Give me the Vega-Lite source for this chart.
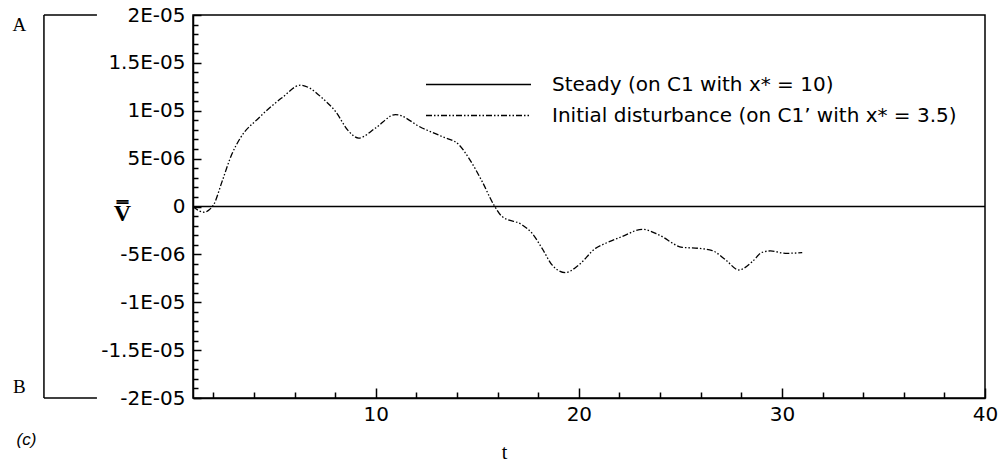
{
  "$schema": "https://vega.github.io/schema/vega-lite/v6.json",
  "width": 792,
  "height": 383,
  "autosize": {"type": "none"},
  "padding": {"left": 193, "top": 15, "right": 16, "bottom": 70},
  "background": "white",
  "config": {
    "view": {"stroke": "black", "strokeWidth": 1.5},
    "axis": {
      "domainColor": "black", "domainWidth": 1.5,
      "tickColor": "black", "tickWidth": 1.5,
      "labelColor": "black", "labelFont": "DejaVu Sans", "labelFontSize": 20,
      "labelOverlap": false, "labelBound": false, "labelFlush": false,
      "grid": false, "titleColor": "black"
    }
  },
  "datasets": {
    "series": [
      {"s": "Steady (on C1 with x* = 10)", "t": 1, "v": 0},
      {"s": "Steady (on C1 with x* = 10)", "t": 40, "v": 0},
      {"s": "Initial disturbance (on C1’ with x* = 3.5)", "t": 1.0, "v": 0},
      {"s": "Initial disturbance (on C1’ with x* = 3.5)", "t": 1.3, "v": -0.45e-6},
      {"s": "Initial disturbance (on C1’ with x* = 3.5)", "t": 1.55, "v": -0.6e-6},
      {"s": "Initial disturbance (on C1’ with x* = 3.5)", "t": 1.8, "v": -0.35e-6},
      {"s": "Initial disturbance (on C1’ with x* = 3.5)", "t": 2.02, "v": 0.2e-6},
      {"s": "Initial disturbance (on C1’ with x* = 3.5)", "t": 2.43, "v": 2.6e-6},
      {"s": "Initial disturbance (on C1’ with x* = 3.5)", "t": 2.9, "v": 5.4e-6},
      {"s": "Initial disturbance (on C1’ with x* = 3.5)", "t": 3.33, "v": 7.15e-6},
      {"s": "Initial disturbance (on C1’ with x* = 3.5)", "t": 4.24, "v": 9.25e-6},
      {"s": "Initial disturbance (on C1’ with x* = 3.5)", "t": 5.38, "v": 11.35e-6},
      {"s": "Initial disturbance (on C1’ with x* = 3.5)", "t": 6.29, "v": 12.67e-6},
      {"s": "Initial disturbance (on C1’ with x* = 3.5)", "t": 6.8, "v": 12.3e-6},
      {"s": "Initial disturbance (on C1’ with x* = 3.5)", "t": 7.35, "v": 11.35e-6},
      {"s": "Initial disturbance (on C1’ with x* = 3.5)", "t": 8.01, "v": 9.95e-6},
      {"s": "Initial disturbance (on C1’ with x* = 3.5)", "t": 8.67, "v": 7.85e-6},
      {"s": "Initial disturbance (on C1’ with x* = 3.5)", "t": 9.16, "v": 7.15e-6},
      {"s": "Initial disturbance (on C1’ with x* = 3.5)", "t": 9.99, "v": 8.2e-6},
      {"s": "Initial disturbance (on C1’ with x* = 3.5)", "t": 10.97, "v": 9.6e-6},
      {"s": "Initial disturbance (on C1’ with x* = 3.5)", "t": 12.28, "v": 8.2e-6},
      {"s": "Initial disturbance (on C1’ with x* = 3.5)", "t": 13.27, "v": 7.3e-6},
      {"s": "Initial disturbance (on C1’ with x* = 3.5)", "t": 14.09, "v": 6.46e-6},
      {"s": "Initial disturbance (on C1’ with x* = 3.5)", "t": 14.58, "v": 5.06e-6},
      {"s": "Initial disturbance (on C1’ with x* = 3.5)", "t": 15.24, "v": 2.6e-6},
      {"s": "Initial disturbance (on C1’ with x* = 3.5)", "t": 15.81, "v": 0.18e-6},
      {"s": "Initial disturbance (on C1’ with x* = 3.5)", "t": 16.22, "v": -1.05e-6},
      {"s": "Initial disturbance (on C1’ with x* = 3.5)", "t": 17.21, "v": -1.92e-6},
      {"s": "Initial disturbance (on C1’ with x* = 3.5)", "t": 17.7, "v": -2.8e-6},
      {"s": "Initial disturbance (on C1’ with x* = 3.5)", "t": 18.19, "v": -4.37e-6},
      {"s": "Initial disturbance (on C1’ with x* = 3.5)", "t": 18.68, "v": -6.1e-6},
      {"s": "Initial disturbance (on C1’ with x* = 3.5)", "t": 19.34, "v": -6.9e-6},
      {"s": "Initial disturbance (on C1’ with x* = 3.5)", "t": 20.0, "v": -6.1e-6},
      {"s": "Initial disturbance (on C1’ with x* = 3.5)", "t": 20.82, "v": -4.37e-6},
      {"s": "Initial disturbance (on C1’ with x* = 3.5)", "t": 21.32, "v": -3.84e-6},
      {"s": "Initial disturbance (on C1’ with x* = 3.5)", "t": 22.13, "v": -3.14e-6},
      {"s": "Initial disturbance (on C1’ with x* = 3.5)", "t": 23.12, "v": -2.38e-6},
      {"s": "Initial disturbance (on C1’ with x* = 3.5)", "t": 23.94, "v": -2.97e-6},
      {"s": "Initial disturbance (on C1’ with x* = 3.5)", "t": 25.09, "v": -4.26e-6},
      {"s": "Initial disturbance (on C1’ with x* = 3.5)", "t": 25.91, "v": -4.37e-6},
      {"s": "Initial disturbance (on C1’ with x* = 3.5)", "t": 26.57, "v": -4.6e-6},
      {"s": "Initial disturbance (on C1’ with x* = 3.5)", "t": 27.23, "v": -5.58e-6},
      {"s": "Initial disturbance (on C1’ with x* = 3.5)", "t": 27.88, "v": -6.63e-6},
      {"s": "Initial disturbance (on C1’ with x* = 3.5)", "t": 28.54, "v": -5.76e-6},
      {"s": "Initial disturbance (on C1’ with x* = 3.5)", "t": 29.03, "v": -4.78e-6},
      {"s": "Initial disturbance (on C1’ with x* = 3.5)", "t": 29.44, "v": -4.64e-6},
      {"s": "Initial disturbance (on C1’ with x* = 3.5)", "t": 30.18, "v": -4.89e-6},
      {"s": "Initial disturbance (on C1’ with x* = 3.5)", "t": 31.0, "v": -4.82e-6}
    ],
    "bracket": [
      {"t": -6.34, "t2": -6.34, "v": 2e-5, "v2": -2e-5},
      {"t": -6.34, "t2": -3.73, "v": 2e-5, "v2": 2e-5},
      {"t": -6.34, "t2": -3.73, "v": -2e-5, "v2": -2e-5}
    ],
    "letters": [
      {"t": -7.55, "v": 1.9e-5, "label": "A"},
      {"t": -7.55, "v": -1.88e-5, "label": "B"}
    ],
    "panel": [
      {"t": -7.2, "v": -2.44e-5, "label": "(c)"}
    ]
  },
  "encoding": {
    "x": {
      "field": "t", "type": "quantitative",
      "scale": {"domain": [1, 40], "nice": false, "zero": false},
      "axis": {
        "values": [2, 4, 6, 8, 10, 12, 14, 16, 18, 20, 22, 24, 26, 28, 30, 32, 34, 36, 38, 40],
        "labelExpr": "datum.value % 10 == 0 ? datum.label : ''",
        "labelOverlap": false,
        "tickSize": {"condition": {"test": "datum.value % 10 == 0", "value": -10}, "value": -6},
        "labelPadding": 16,
        "title": "t",
        "titleFont": "Liberation Serif", "titleFontSize": 20, "titleFontWeight": "normal",
        "titleX": 311, "titleY": 54, "titleAlign": "center", "titleBaseline": "middle"
      }
    },
    "y": {
      "field": "v", "type": "quantitative",
      "scale": {"domain": [-2e-5, 2e-5], "nice": false, "zero": false},
      "axis": {
        "values": [-2e-5, -1.9e-5, -1.8e-5, -1.7e-5, -1.6e-5, -1.5e-5, -1.4e-5, -1.3e-5, -1.2e-5, -1.1e-5, -1e-5, -9e-6, -8e-6, -7e-6, -6e-6, -5e-6, -4e-6, -3e-6, -2e-6, -1e-6, 0, 1e-6, 2e-6, 3e-6, 4e-6, 5e-6, 6e-6, 7e-6, 8e-6, 9e-6, 1e-5, 1.1e-5, 1.2e-5, 1.3e-5, 1.4e-5, 1.5e-5, 1.6e-5, 1.7e-5, 1.8e-5, 1.9e-5, 2e-5],
        "labelExpr": "abs(datum.value*2e5 - round(datum.value*2e5)) > 0.01 ? '' : ['-2E-05','-1.5E-05','-1E-05','-5E-06','0','5E-06','1E-05','1.5E-05','2E-05'][round(datum.value*2e5)+4]",
        "labelOverlap": false,
        "tickSize": {"condition": {"test": "abs(datum.value*2e5 - round(datum.value*2e5)) < 0.01", "value": -8}, "value": -5},
        "labelPadding": 16,
        "title": "V̿",
        "titleFont": "Liberation Serif", "titleFontSize": 24, "titleFontWeight": "bold",
        "titleAngle": 0, "titleX": -71, "titleY": 198, "titleAlign": "center", "titleBaseline": "middle"
      }
    }
  },
  "layer": [
    {
      "data": {"name": "series"},
      "mark": {"type": "line", "interpolate": "monotone", "color": "black", "strokeWidth": 1.3},
      "encoding": {
        "strokeDash": {
          "field": "s", "type": "nominal",
          "scale": {
            "domain": ["Steady (on C1 with x* = 10)", "Initial disturbance (on C1’ with x* = 3.5)"],
            "range": [[1, 0], [6, 2, 1.5, 2, 1.5, 2]]
          },
          "legend": {
            "orient": "none", "legendX": 232, "legendY": 54,
            "title": null,
            "symbolType": "stroke", "symbolSize": 11025, "symbolStrokeWidth": 1.3,
            "symbolStrokeColor": "black", "clipHeight": 31,
            "labelFont": "DejaVu Sans", "labelFontSize": 20, "labelColor": "black",
            "labelOffset": 20, "labelLimit": 600, "rowPadding": 0
          }
        }
      }
    },
    {
      "data": {"name": "bracket"},
      "mark": {"type": "rule", "color": "black", "strokeWidth": 1.5},
      "encoding": {
        "x2": {"field": "t2"},
        "y2": {"field": "v2"}
      }
    },
    {
      "data": {"name": "letters"},
      "mark": {"type": "text", "font": "Liberation Serif", "fontSize": 19, "color": "black", "align": "center", "baseline": "middle"},
      "encoding": {
        "text": {"field": "label"}
      }
    },
    {
      "data": {"name": "panel"},
      "mark": {"type": "text", "font": "Liberation Sans", "fontSize": 17, "fontStyle": "italic", "color": "black", "align": "center", "baseline": "middle"},
      "encoding": {
        "text": {"field": "label"}
      }
    }
  ]
}
